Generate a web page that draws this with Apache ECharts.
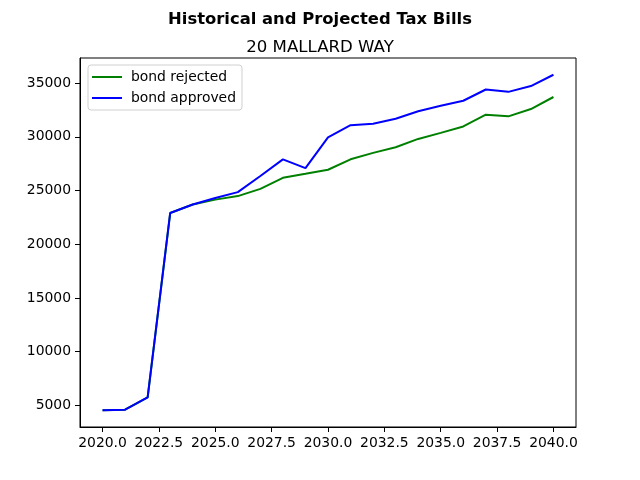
<!DOCTYPE html>
<html>
<head>
<meta charset="utf-8">
<script src="https://cdn.jsdelivr.net/npm/echarts@6/dist/echarts.min.js"></script>
<style>
  html, body { margin: 0; padding: 0; background: #fff; }
  #chart { width: 640px; height: 480px; }
</style>
</head>
<body>
<div id="chart"></div>
<script>
const years = [2020, 2021, 2022, 2023, 2024, 2025, 2026, 2027, 2028, 2029, 2030,
  2031, 2032, 2033, 2034, 2035, 2036, 2037, 2038, 2039, 2040];
const bondRejected = [4550, 4600, 5750, 22900, 23700, 24150, 24480, 25150, 26180, 26550, 26930,
  27900, 28500, 29020, 29800, 30360, 30960, 32050, 31900, 32580, 33700];
const bondApproved = [4550, 4600, 5750, 22900, 23700, 24300, 24850, 26350, 27900, 27080, 29950,
  31080, 31220, 31680, 32370, 32880, 33350, 34400, 34180, 34720, 35770];
const xTicks = [2020, 2022.5, 2025, 2027.5, 2030, 2032.5, 2035, 2037.5, 2040];
const yTicks = [5000, 10000, 15000, 20000, 25000, 30000, 35000];

const font = 'DejaVu Sans';
const chart = echarts.init(document.getElementById('chart'));

const option = {
  animation: false,
  backgroundColor: '#fff',
  textStyle: { fontFamily: font },
  title: [
    {
      text: 'Historical and Projected Tax Bills',
      left: 'center',
      top: 7,
      textStyle: { fontFamily: font, fontSize: 16.4, fontWeight: 'bold', color: '#000' }
    },
    {
      text: '20 MALLARD WAY',
      left: 'center',
      top: 34,
      textStyle: { fontFamily: font, fontSize: 16.6, fontWeight: 'normal', color: '#000' }
    }
  ],
  legend: {
    orient: 'vertical',
    left: 88,
    top: 65,
    padding: [5, 6, 5, 4],
    itemWidth: 30,
    itemHeight: 14,
    itemGap: 7,
    icon: 'path://M0,6 L30,6 L30,8 L0,8 Z',
    backgroundColor: '#fff',
    borderColor: '#d0d0d0',
    borderWidth: 1,
    borderRadius: 3,
    textStyle: { fontFamily: font, fontSize: 13.9, color: '#000', padding: [0, 0, 0, 4] },
    data: ['bond rejected', 'bond approved']
  },
  grid: {
    left: 80,
    right: 64,
    top: 58,
    bottom: 53,
    show: true,
    borderColor: '#000',
    borderWidth: 1,
    backgroundColor: 'transparent'
  },
  xAxis: {
    type: 'value',
    min: 2019,
    max: 2041,
    axisLine: { show: true, onZero: false, lineStyle: { color: '#000', width: 1 } },
    axisTick: { show: true, inside: false, length: 5, customValues: xTicks, lineStyle: { color: '#000' } },
    axisLabel: {
      customValues: xTicks,
      margin: 9,
      fontFamily: font,
      fontSize: 13.9,
      color: '#000',
      formatter: v => v.toFixed(1)
    },
    splitLine: { show: false }
  },
  yAxis: {
    type: 'value',
    min: 2990,
    max: 37330,
    axisLine: { show: true, lineStyle: { color: '#000', width: 1 } },
    axisTick: { show: true, inside: false, length: 5, customValues: yTicks, lineStyle: { color: '#000' } },
    axisLabel: {
      customValues: yTicks,
      margin: 9,
      fontFamily: font,
      fontSize: 13.9,
      color: '#000',
      formatter: v => String(v)
    },
    splitLine: { show: false }
  },
  series: [
    {
      name: 'bond rejected',
      type: 'line',
      symbol: 'none',
      color: '#008000',
      lineStyle: { width: 2, color: '#008000' },
      data: years.map((y, i) => [y, bondRejected[i]])
    },
    {
      name: 'bond approved',
      type: 'line',
      symbol: 'none',
      color: '#0000ff',
      lineStyle: { width: 2, color: '#0000ff' },
      data: years.map((y, i) => [y, bondApproved[i]])
    }
  ]
};

chart.setOption(option);
</script>
</body>
</html>
